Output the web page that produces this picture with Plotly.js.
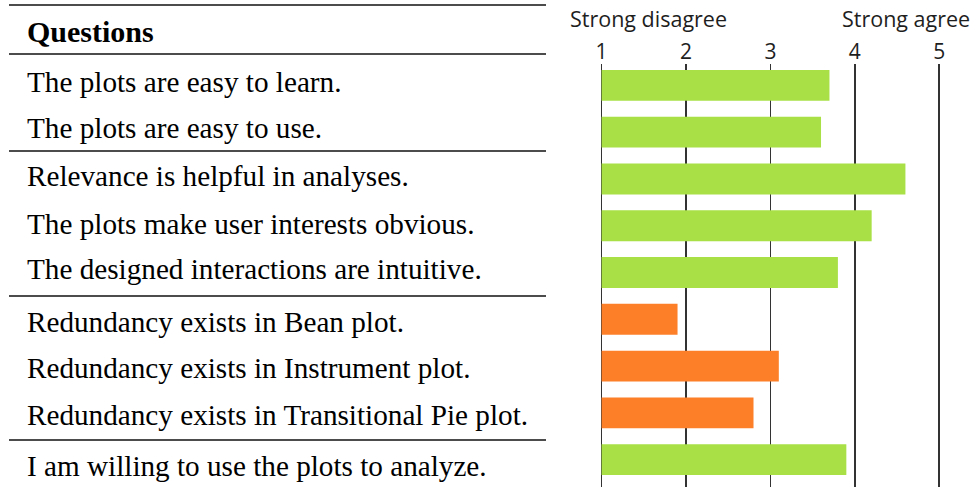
<!DOCTYPE html>
<html>
<head>
<meta charset="utf-8">
<script src="https://cdn.plot.ly/plotly-3.0.1.min.js"></script>
<style>
html,body{margin:0;padding:0;background:#fff;}
#chart{width:977px;height:487px;}
</style>
</head>
<body>
<div id="chart"></div>
<script>
// ---- data ----
const questions = [
  "The plots are easy to learn.",
  "The plots are easy to use.",
  "Relevance is helpful in analyses.",
  "The plots make user interests obvious.",
  "The designed interactions are intuitive.",
  "Redundancy exists in Bean plot.",
  "Redundancy exists in Instrument plot.",
  "Redundancy exists in Transitional Pie plot.",
  "I am willing to use the plots to analyze."
];
const scores = [3.7, 3.6, 4.6, 4.2, 3.8, 1.9, 3.1, 2.8, 3.9];
const polarity = ["pos","pos","pos","pos","pos","neg","neg","neg","pos"];
const scaleTicks = [1, 2, 3, 4, 5];
const scaleTickText = ["1", "2", "3", "4", "5"];
const headerText = "Questions";
const lowLabel = "Strong disagree";
const highLabel = "Strong agree";

// ---- layout helpers ----
const W = 977, H = 487;
const px = x => x / W;
const py = y => 1 - y / H;
const colorOf = {pos: "#A8E046", neg: "#FD7F28"};
const scaleMin = scaleTicks[0];

const trace = {
  type: "bar",
  orientation: "h",
  y: questions,
  x: scores.map(v => v - scaleMin),
  base: scaleMin,
  marker: {color: polarity.map(p => colorOf[p]), line: {width: 0}},
  hoverinfo: "none"
};

// text row vertical centers (pixels) for the table on the left
const rowCenters = [82, 128, 176, 224, 269, 322, 368, 415, 466];
const rules = [5, 54, 151, 296, 440];

const annotations = [];
annotations.push({
  xref: "paper", yref: "paper", x: px(25), y: py(31),
  xanchor: "left", yanchor: "middle", showarrow: false,
  text: "<b>" + headerText + "</b>",
  font: {family: "Liberation Serif, serif", size: 30, color: "#000"}
});
questions.forEach((q, i) => {
  annotations.push({
    xref: "paper", yref: "paper", x: px(25), y: py(rowCenters[i]),
    xanchor: "left", yanchor: "middle", showarrow: false,
    text: q,
    font: {family: "Liberation Serif, serif", size: 29.2, color: "#000"}
  });
});
annotations.push({
  xref: "paper", yref: "paper", x: px(648.5), y: py(19),
  xanchor: "center", yanchor: "middle", showarrow: false,
  text: lowLabel, font: {family: "Open Sans, sans-serif", size: 21.5, color: "#1e1e1e"}
});
annotations.push({
  xref: "paper", yref: "paper", x: px(905.5), y: py(19),
  xanchor: "center", yanchor: "middle", showarrow: false,
  text: highLabel, font: {family: "Open Sans, sans-serif", size: 21.5, color: "#1e1e1e"}
});

const shapes = rules.map(r => ({
  type: "line", xref: "paper", yref: "paper",
  x0: px(9), x1: px(546), y0: py(r), y1: py(r),
  line: {color: "#111", width: 1.3}
}));

const layout = {
  width: W, height: H,
  margin: {l: 0, r: 0, t: 0, b: 0, pad: 0},
  paper_bgcolor: "#fff", plot_bgcolor: "#fff",
  showlegend: false,
  bargap: 0.34,
  xaxis: {
    domain: [584.7 / W, 964.5 / W],
    range: [0.8, 5.3],
    side: "top",
    tickvals: scaleTicks, ticktext: scaleTickText,
    showgrid: true, gridcolor: "#333333", gridwidth: 1.5,
    zeroline: false, showline: false, ticks: "",
    ticklabelstandoff: 0,
    tickfont: {family: "Open Sans, sans-serif", size: 21, color: "#1e1e1e"},
    fixedrange: true
  },
  yaxis: {
    domain: [0, 1 - 64 / H],
    type: "category",
    range: [8.585, -0.457],
    showticklabels: false, showgrid: false, zeroline: false, showline: false, ticks: "",
    fixedrange: true
  },
  annotations: annotations,
  shapes: shapes
};

Plotly.newPlot("chart", [trace], layout, {displayModeBar: false, staticPlot: true});
</script>
</body>
</html>
